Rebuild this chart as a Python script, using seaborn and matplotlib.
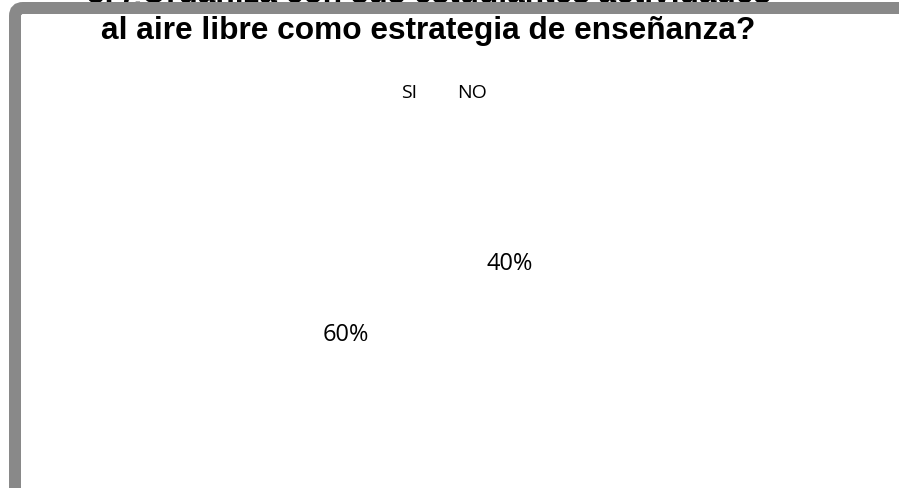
import matplotlib
matplotlib.use('Agg')
import matplotlib.pyplot as plt
import seaborn as sns
from matplotlib.patches import FancyBboxPatch

# Survey answers (question 3)
categories = ["SI", "NO"]
percentages = [60, 40]
title_lines = ["3. ¿Organiza con sus estudiantes actividades",
               "al aire libre como estrategia de enseñanza?"]

sns.set_theme(style="white")
plt.rcParams['font.family'] = ['Open Sans', 'DejaVu Sans']

W, H = 899, 489
fig = plt.figure(figsize=(W / 100, H / 100), dpi=100)
fig.patch.set_facecolor('white')

# pie axes, centre (428, 299) px, radius 149 px
cx, cy, r = 428, 299.25, 149
ax = fig.add_axes([(cx - r) / W, (H - cy - r) / H, 2 * r / W, 2 * r / H])
slice_colors = ['white', 'white']
wedges, _, autotexts = ax.pie(percentages, labels=None, colors=slice_colors,
                              autopct='%1.0f%%', pctdistance=0.6,
                              startangle=95.55, counterclock=True,
                              wedgeprops=dict(edgecolor='white', linewidth=0),
                              textprops=dict(fontsize=17, color='black',
                                             family=['Open Sans', 'DejaVu Sans']))
ax.set_xlim(-1, 1)
ax.set_ylim(-1, 1)
ax.set_aspect('equal')
ax.axis('off')

# legend (markers are white, like the slices)
leg = fig.legend(wedges, categories, loc='center left', ncol=2,
                 bbox_to_anchor=(381.6 / W, 1 - 93.5 / H),
                 frameon=False, fontsize=14, borderpad=0, borderaxespad=0,
                 handlelength=0.7, handletextpad=0.3, columnspacing=1.06)
for t in leg.get_texts():
    t.set_color('black')

# title, two lines; the first one sits under the frame
title_kw = dict(ha='center', va='baseline', fontsize=22.8, fontweight='bold',
                family=['Liberation Sans', 'DejaVu Sans'], color='black', zorder=2)
fig.text(428.5 / W, 1 - 2.5 / H, title_lines[0], **title_kw)
fig.text(428.5 / W, 1 - 39 / H, title_lines[1], **title_kw)

# grey chart-area frame (rounded top-left corner, open to the right and bottom)
frame = FancyBboxPatch((0.15, -0.6), 9.6, 4.80 + 0.6,
                       boxstyle="round,pad=0,rounding_size=0.08",
                       transform=fig.dpi_scale_trans, facecolor='none',
                       edgecolor='#898989', linewidth=12 * 72 / 100, zorder=5)
fig.patches.append(frame)

fig.savefig('out.png', dpi=100)
